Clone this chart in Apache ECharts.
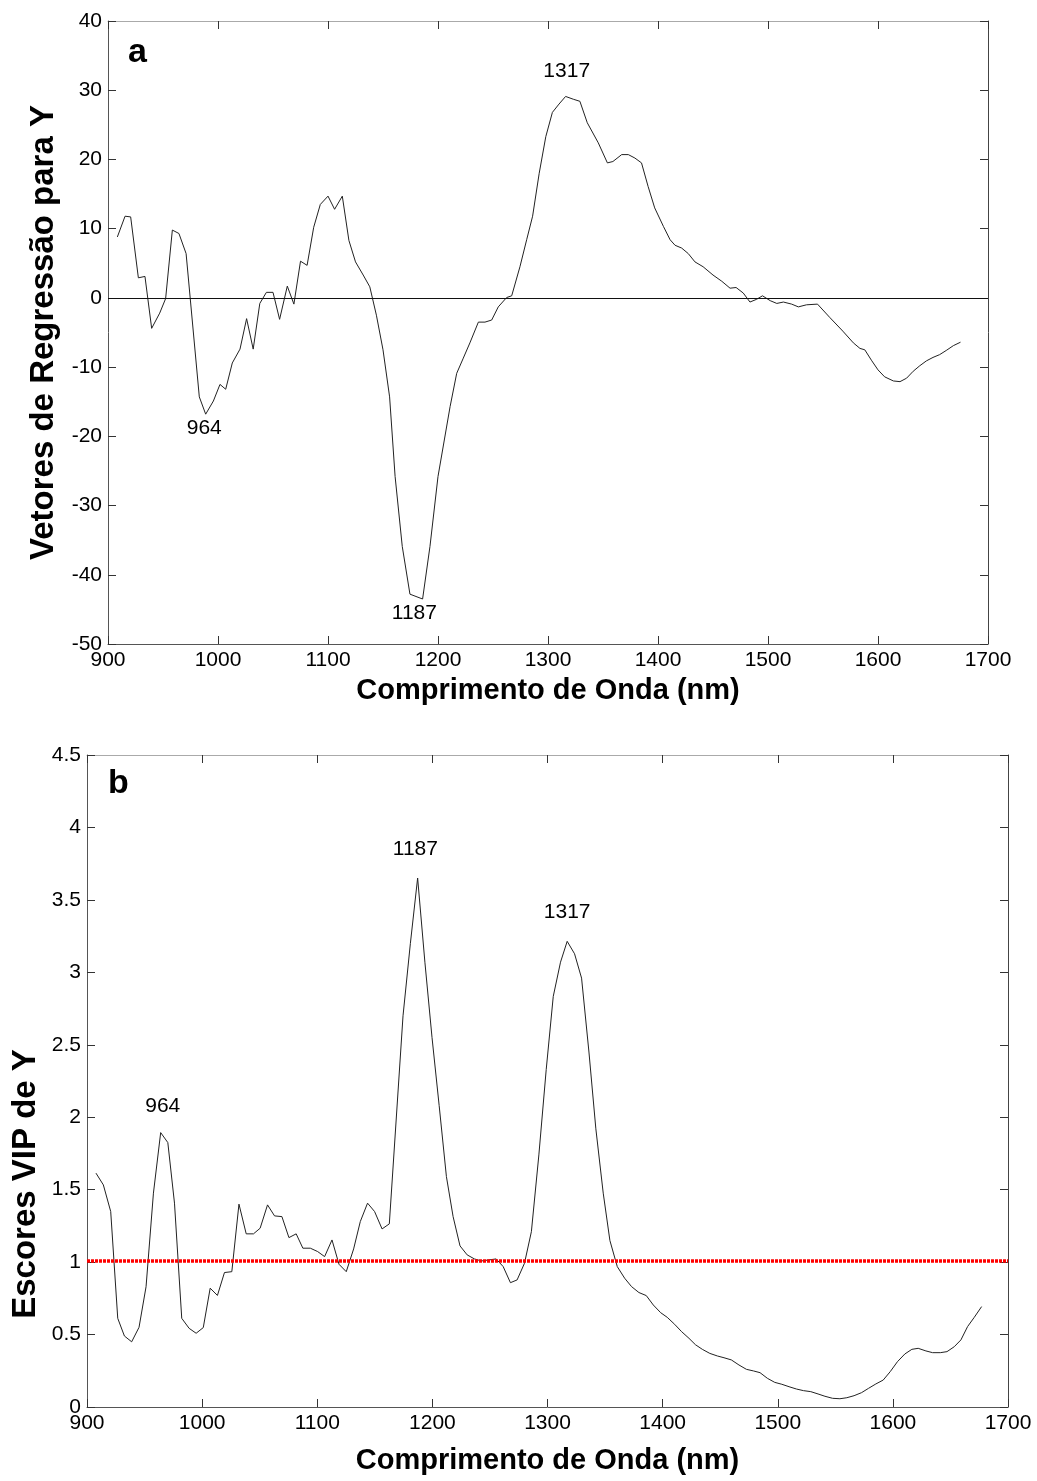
<!DOCTYPE html>
<html><head><meta charset="utf-8">
<script src="https://cdn.jsdelivr.net/npm/echarts/dist/echarts.min.js"></script>
<style>html,body{margin:0;padding:0;background:#fff}#c{width:1037px;height:1481px}</style>
</head><body><div id="c"></div>
<script>
// ---- Panel a: regression vectors ----
const wavelengthA = [908.5,915.5,920.6,927.6,933.6,939.7,947,952.4,958.5,964.5,971,983,988.8,995.8,1001.8,1007,1013,1020,1026,1032,1038,1044,1050,1056,1063,1069,1075,1081,1087,1093,1100,1106,1113,1119,1125,1132,1138,1144,1150,1156,1161,1167.5,1174.5,1186,1192.7,1200,1211,1217,1223,1229,1236.7,1242.7,1248.8,1254.8,1262.4,1267,1274.5,1280.6,1286,1292,1298,1304,1310,1316,1323,1329,1335.7,1345.7,1354,1359,1367,1373,1379,1385,1391,1397,1405,1411,1415.5,1421.5,1427.5,1433.6,1441,1450,1458,1465.5,1471,1477.5,1483.6,1489.7,1495,1502,1508,1514,1521.5,1527.6,1535,1545,1556,1568,1577.6,1583.6,1588,1594,1600,1606,1614,1620,1626,1632,1638,1644,1650,1656,1662,1668.5,1675];
const regressionA = [8.8,11.8,11.7,2.9,3.1,-4.4,-2.2,-0.1,9.8,9.3,6.4,-14.3,-16.8,-14.9,-12.5,-13.2,-9.4,-7.4,-3.0,-7.4,-0.8,0.8,0.8,-3.1,1.7,-0.9,5.3,4.7,10.2,13.5,14.7,12.8,14.7,8.3,5.2,3.3,1.6,-2.5,-7.5,-14.3,-25.8,-35.9,-42.8,-43.5,-35.9,-25.8,-15.7,-10.9,-8.7,-6.5,-3.5,-3.5,-3.2,-1.3,0.05,0.3,4.5,8.4,11.8,18.0,23.3,26.8,28.0,29.1,28.7,28.4,25.3,22.4,19.5,19.7,20.7,20.7,20.2,19.5,16.1,13.0,10.3,8.4,7.6,7.2,6.4,5.2,4.5,3.3,2.4,1.4,1.5,0.7,-0.6,-0.2,0.3,-0.4,-0.8,-0.6,-0.9,-1.3,-1.0,-0.9,-2.8,-4.8,-6.5,-7.3,-7.5,-9.0,-10.4,-11.4,-12.0,-12.1,-11.6,-10.6,-9.8,-9.1,-8.6,-8.2,-7.6,-6.9,-6.4];
const peakTextA = ['1317','964','1187'];
const peakPosA = [[1317,32.8],[987.5,-18.8],[1178.5,-45.6]];

// ---- Panel b: VIP scores ----
const wavelengthB = [907.8,914.2,920.6,926.7,932.5,938.8,945.2,951.3,957.7,964,970.2,976,982.3,988.7,994.8,1001,1007,1013.3,1019.4,1025.8,1032,1038.3,1044.6,1050.4,1056.8,1062.9,1069.3,1075.4,1081.7,1087.5,1094,1100.3,1106.4,1112.8,1118.9,1125.2,1131.6,1137.4,1143.7,1149.8,1156.3,1162.6,1174.5,1180.9,1187.2,1193.5,1199.7,1205.9,1212.2,1218,1224,1230.2,1236.5,1242.6,1249,1255.4,1261.5,1267.8,1273.6,1280,1286,1292.5,1298.9,1305,1311.3,1317.1,1323.5,1329.6,1336,1342,1348.4,1354.2,1360.6,1367,1373,1379.4,1385.8,1391.9,1398.3,1404,1410.4,1416.5,1422.9,1428.5,1434.5,1441,1447.6,1453.3,1459.7,1466.3,1472.8,1478.9,1484.6,1491,1497.4,1503.5,1509.8,1516.3,1522.3,1528.7,1535,1541,1547.6,1554,1560,1566.3,1572.8,1578.9,1585.2,1591.6,1597.7,1604,1610.4,1616.5,1622,1628.7,1634.5,1641.2,1647,1653.3,1659.1,1664.9,1670.7,1677.1];
const vipB = [1.614,1.533,1.349,0.612,0.49,0.45,0.55,0.83,1.476,1.894,1.825,1.407,0.612,0.543,0.509,0.548,0.82,0.77,0.928,0.934,1.40,1.195,1.195,1.234,1.395,1.319,1.314,1.169,1.195,1.096,1.096,1.073,1.038,1.153,0.985,0.934,1.091,1.28,1.407,1.349,1.229,1.264,2.7,3.2,3.651,3.07,2.55,2.08,1.59,1.314,1.112,1.05,1.022,1.008,1.015,1.022,0.969,0.858,0.877,0.992,1.21,1.74,2.33,2.834,3.07,3.214,3.128,2.96,2.45,1.92,1.476,1.149,0.969,0.889,0.831,0.79,0.769,0.704,0.651,0.619,0.571,0.52,0.474,0.43,0.398,0.37,0.352,0.34,0.325,0.29,0.26,0.249,0.237,0.198,0.17,0.157,0.14,0.124,0.113,0.106,0.09,0.074,0.06,0.057,0.064,0.078,0.099,0.129,0.159,0.186,0.244,0.313,0.366,0.398,0.405,0.387,0.375,0.375,0.382,0.416,0.463,0.555,0.619,0.693];
const peakTextB = ['1187','1317','964'];
const peakPosB = [[1185.2,3.847],[1317.1,3.414],[965.8,2.079]];
const vipThreshold = 1.01;

const FONT = "'Liberation Sans', Arial, sans-serif";
const chart = echarts.init(document.getElementById('c'), null, {renderer:'canvas'});

function xAxes(gridIndex, name, gap){
  return [{
    type:'value', gridIndex, min:900, max:1700, interval:100, position:'bottom',
    name, nameLocation:'middle', nameGap:gap,
    nameTextStyle:{fontFamily:FONT, fontSize:29, fontWeight:'bold', color:'#000'},
    axisLine:{onZero:false, lineStyle:{color:'#555', width:1}},
    axisTick:{inside:true, length:8, lineStyle:{color:'#333'}},
    axisLabel:{fontFamily:FONT, fontSize:21, color:'#000', margin:6, formatter:v=>String(v)},
    splitLine:{show:false}
  },{
    type:'value', gridIndex, min:900, max:1700, interval:100, position:'top',
    axisLine:{onZero:false, lineStyle:{color:'#aaa', width:1}},
    axisTick:{inside:true, length:8, lineStyle:{color:'#333'}},
    axisLabel:{show:false}, splitLine:{show:false}
  }];
}
function yAxes(gridIndex, min, max, interval, name){
  return [{
    type:'value', gridIndex, min, max, interval, position:'left',
    name, nameLocation:'middle', nameGap:45,
    nameTextStyle:{fontFamily:FONT, fontSize:33, fontWeight:'bold', color:'#000'},
    axisLine:{show:true, onZero:false, lineStyle:{color:'#555', width:1}},
    axisTick:{show:true, inside:true, length:8, lineStyle:{color:'#333'}},
    axisLabel:{fontFamily:FONT, fontSize:21, color:'#000', margin:6, formatter:v=>String(v)},
    splitLine:{show:false}
  },{
    type:'value', gridIndex, min, max, interval, position:'right',
    axisLine:{show:true, onZero:false, lineStyle:{color:'#444', width:1}},
    axisTick:{show:true, inside:true, length:8, lineStyle:{color:'#333'}},
    axisLabel:{show:false}, splitLine:{show:false}
  }];
}
function annot(xi, yi, pos, txt){
  return {
    type:'scatter', xAxisIndex:xi, yAxisIndex:yi, symbolSize:1,
    itemStyle:{color:'rgba(0,0,0,0)'}, silent:true,
    data: pos.map((p,i)=>({value:p, name:txt[i]})),
    label:{show:true, position:'inside', formatter:p=>p.name, fontFamily:FONT, fontSize:21, color:'#000', opacity:1}
  };
}

chart.setOption({
  animation:false,
  backgroundColor:'#fff',
  grid:[
    {left:108, top:21, width:880, height:623},
    {left:87, top:755, width:921, height:652}
  ],
  xAxis:[...xAxes(0,'Comprimento de Onda (nm)',32), ...xAxes(1,'Comprimento de Onda (nm)',39)],
  yAxis:[...yAxes(0,-50,40,10,'Vetores de Regressão para Y'), ...yAxes(1,0,4.5,0.5,'')],
  graphic:[
    {type:'text', left:128, top:36, style:{text:'a', font:"bold 34px 'Liberation Sans', Arial", fill:'#000'}},
    {type:'text', left:108, top:767, style:{text:'b', font:"bold 34px 'Liberation Sans', Arial", fill:'#000'}},
    {type:'text', x:26, y:1184, rotation:Math.PI/2,
     style:{text:'Escores VIP de Y', font:"bold 33px 'Liberation Sans', Arial", fill:'#000', textAlign:'center', textVerticalAlign:'middle'}}
  ],
  series:[
    {type:'line', xAxisIndex:0, yAxisIndex:0, showSymbol:false, silent:true,
     data: wavelengthA.map((w,i)=>[w, regressionA[i]]),
     lineStyle:{color:'#222', width:1},
     markLine:{silent:true, symbol:'none', label:{show:false},
       lineStyle:{color:'#111', width:1, type:'solid'}, data:[{yAxis:0}]}},
    annot(0,0,peakPosA,peakTextA),
    {type:'line', xAxisIndex:2, yAxisIndex:2, showSymbol:false, silent:true,
     data: wavelengthB.map((w,i)=>[w, vipB[i]]),
     lineStyle:{color:'#222', width:1},
     markLine:{silent:true, symbol:'none', label:{show:false},
       lineStyle:{color:'#ff0000', width:3.5, type:[3,1]}, data:[{yAxis:vipThreshold}]}},
    annot(2,2,peakPosB,peakTextB)
  ]
});
</script></body></html>
